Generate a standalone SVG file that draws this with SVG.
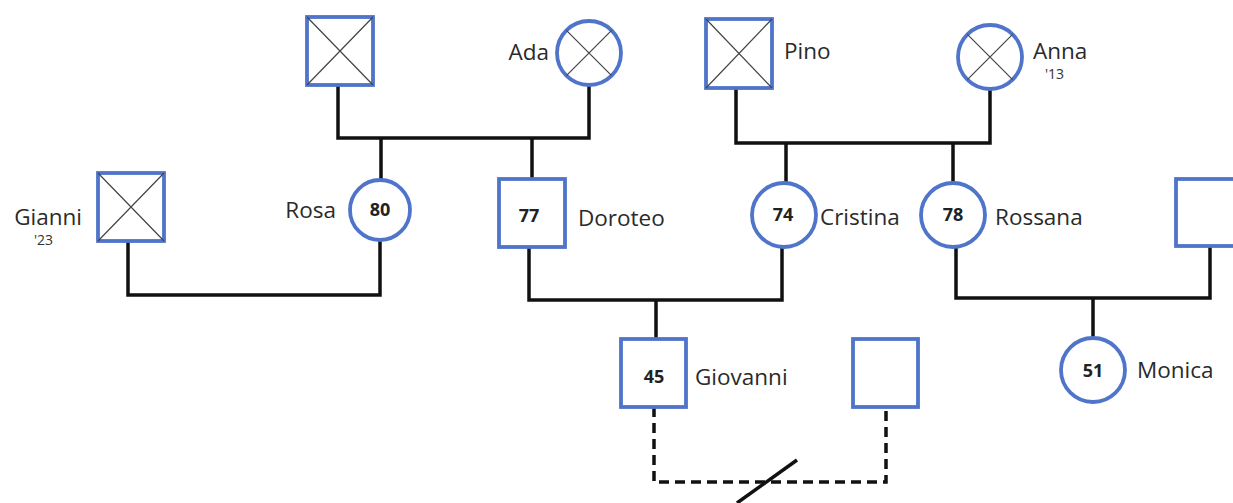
<svg xmlns="http://www.w3.org/2000/svg" width="1233" height="503" viewBox="0 0 1233 503">
<style>
.sym{fill:#fff;stroke:#4f74c9;stroke-width:3.8}
.x{stroke:#444;stroke-width:1.2}
.ln{fill:none;stroke:#111;stroke-width:3.5}
.dash{fill:none;stroke:#111;stroke-width:3.5;stroke-dasharray:10 6}
.lbl{font-family:"Open Sans","Noto Sans",sans-serif;font-size:22.5px;fill:#2a2a2a}
.num{font-family:"Open Sans","Noto Sans",sans-serif;font-size:18px;font-weight:bold;fill:#222;text-anchor:middle}
.yr{font-family:"Open Sans","Noto Sans",sans-serif;font-size:14px;fill:#333}
</style>
<rect width="1233" height="503" fill="#fff"/>
<g id="connectors">
<path class="ln" d="M338 85V138H589V85"/>
<path class="ln" d="M381 138V180M532 138V178"/>
<path class="ln" d="M736 88V143H990V89"/>
<path class="ln" d="M786 143V183M953 143V183"/>
<path class="ln" d="M128 241V295H380V240"/>
<path class="ln" d="M529 247V300H782V247M656 300V338"/>
<path class="ln" d="M956 247V298H1210V246M1093 298V338"/>
<path class="dash" d="M654 407V482H886V407"/>
<path class="ln" d="M737 503L797 460"/>
</g>
<g id="n-grandpa1"><rect class="sym" x="307" y="17" width="66" height="68"/><path class="x" d="M307 17L373 85M373 17L307 85"/></g>
<g id="n-ada"><circle class="sym" cx="589" cy="53" r="32"/><path class="x" d="M566.4 30.4L611.6 75.6M611.6 30.4L566.4 75.6"/><text class="lbl" x="549" y="60" text-anchor="end">Ada</text></g>
<g id="n-pino"><rect class="sym" x="706" y="19" width="66" height="69"/><path class="x" d="M706 19L772 88M772 19L706 88"/><text class="lbl" x="784" y="59">Pino</text></g>
<g id="n-anna"><circle class="sym" cx="990" cy="57" r="32"/><path class="x" d="M967.4 34.4L1012.6 79.6M1012.6 34.4L967.4 79.6"/><text class="lbl" x="1033" y="59">Anna</text><text class="yr" x="1045" y="79">'13</text></g>
<g id="n-gianni"><rect class="sym" x="98" y="173" width="66" height="68"/><path class="x" d="M98 173L164 241M164 173L98 241"/><text class="lbl" x="82" y="225" text-anchor="end">Gianni</text><text class="yr" x="34" y="245">'23</text></g>
<g id="n-rosa"><circle class="sym" cx="380" cy="210" r="30"/><text class="num" x="380" y="216">80</text><text class="lbl" x="336" y="218" text-anchor="end">Rosa</text></g>
<g id="n-doroteo"><rect class="sym" x="499" y="179" width="66" height="68"/><text class="num" x="529" y="222">77</text><text class="lbl" x="578" y="226">Doroteo</text></g>
<g id="n-cristina"><circle class="sym" cx="784" cy="215" r="32"/><text class="num" x="783" y="221">74</text><text class="lbl" x="820" y="225">Cristina</text></g>
<g id="n-rossana"><circle class="sym" cx="953" cy="215" r="32"/><text class="num" x="953" y="221">78</text><text class="lbl" x="995" y="225">Rossana</text></g>
<g id="n-spouse-r"><rect class="sym" x="1176" y="179" width="66" height="67"/></g>
<g id="n-giovanni"><rect class="sym" x="621" y="339" width="65" height="68"/><text class="num" x="654" y="383">45</text><text class="lbl" x="695" y="385">Giovanni</text></g>
<g id="n-partner"><rect class="sym" x="853" y="339" width="65" height="68"/></g>
<g id="n-monica"><circle class="sym" cx="1093" cy="370" r="32"/><text class="num" x="1093" y="377">51</text><text class="lbl" x="1137" y="378">Monica</text></g>
</svg>
